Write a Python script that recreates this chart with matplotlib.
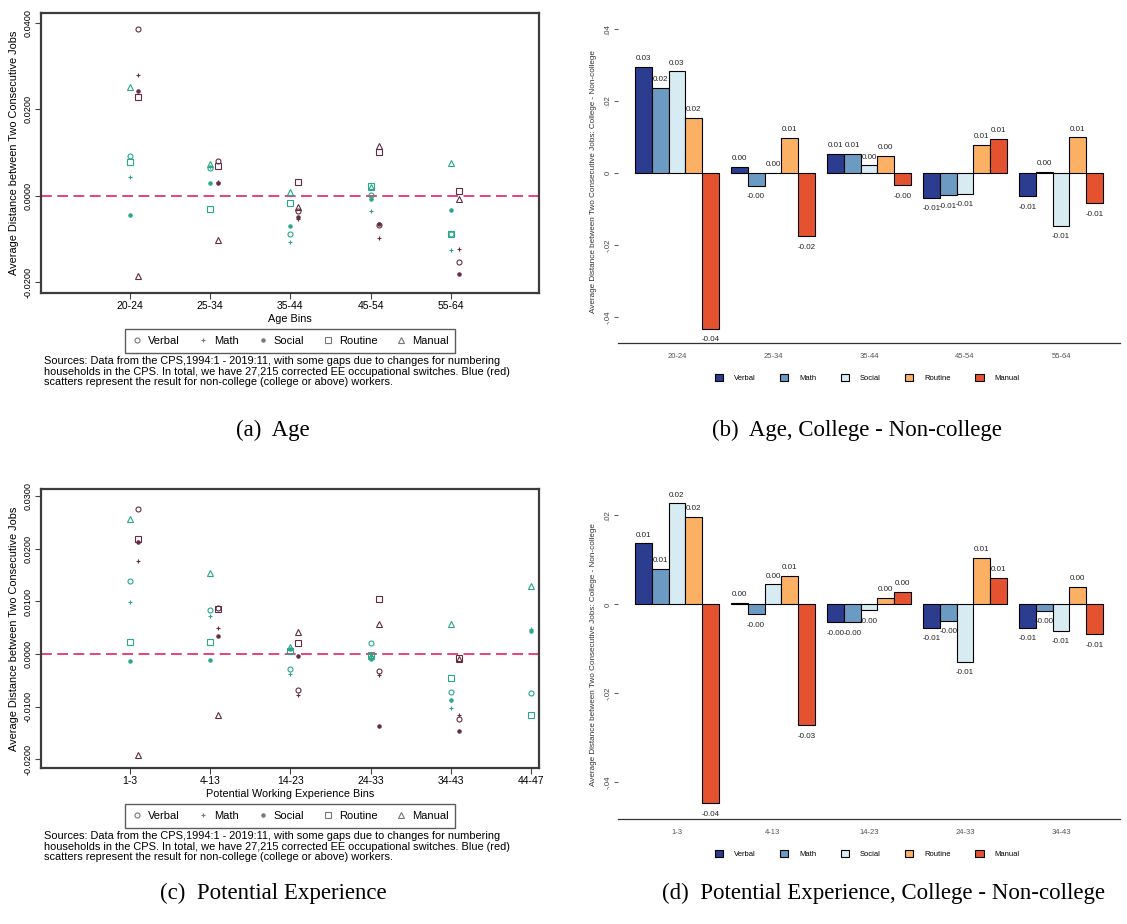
import numpy as np
import matplotlib
matplotlib.use("Agg")
import matplotlib.pyplot as plt
from matplotlib.lines import Line2D
from matplotlib.patches import Patch

plt.rcParams["font.family"] = ["Liberation Sans", "DejaVu Sans"]

W, H = 1127, 924

skills = ["Verbal", "Math", "Social", "Routine", "Manual"]
age_bins = ["20-24", "25-34", "35-44", "45-54", "55-64"]
exp_bins = ["1-3", "4-13", "14-23", "24-33", "34-43", "44-47"]

# average distance by age bin, rows follow `skills`
age_noncol = [
    [0.0091, 0.0064, -0.0088, 0.0002, -0.0088],
    [0.0043, 0.0066, -0.0107, -0.0036, -0.0126],
    [-0.0045, 0.0029, -0.0071, -0.0008, -0.0034],
    [0.0077, -0.0031, -0.0018, 0.0023, -0.0088],
    [0.0250, 0.0074, 0.0008, 0.0019, 0.0075],
]
age_col = [
    [0.0385, 0.0080, -0.0035, -0.0067, -0.0153],
    [0.0279, 0.0031, -0.0054, -0.0098, -0.0123],
    [0.0241, 0.0030, -0.0050, -0.0065, -0.0180],
    [0.0228, 0.0068, 0.0031, 0.0100, 0.0011],
    [-0.0186, -0.0103, -0.0026, 0.0114, -0.0008],
]

# average distance by potential experience bin (no college group for 44-47)
exp_noncol = [
    [0.0138, 0.0083, -0.0029, 0.0020, -0.0072, -0.0074],
    [0.0098, 0.0072, -0.0039, -0.0003, -0.0103, 0.0047],
    [-0.0013, -0.0011, 0.0010, -0.0009, -0.0087, 0.0044],
    [0.0022, 0.0022, 0.0005, -0.0001, -0.0046, -0.0117],
    [0.0256, 0.0154, 0.0013, -0.0003, 0.0058, 0.0130],
]
exp_col = [
    [0.0275, 0.0087, -0.0069, -0.0032, -0.0124],
    [0.0177, 0.0050, -0.0079, -0.0040, -0.0117],
    [0.0214, 0.0034, -0.0003, -0.0138, -0.0146],
    [0.0219, 0.0086, 0.0020, 0.0105, -0.0007],
    [-0.0192, -0.0117, 0.0041, 0.0057, -0.0009],
]

# college minus non-college
age_diff = [
    [0.0294, 0.0016, 0.0053, -0.0069, -0.0065],
    [0.0236, -0.0035, 0.0053, -0.0062, 0.0003],
    [0.0282, 0.0001, 0.0021, -0.0057, -0.0146],
    [0.0152, 0.0097, 0.0048, 0.0077, 0.0099],
    [-0.0432, -0.0176, -0.0034, 0.0095, -0.0083],
]
exp_diff = [
    [0.0137, 0.0004, -0.0040, -0.0052, -0.0052],
    [0.0079, -0.0022, -0.0040, -0.0037, -0.0014],
    [0.0227, 0.0045, -0.0013, -0.0129, -0.0059],
    [0.0196, 0.0064, 0.0015, 0.0105, 0.0039],
    [-0.0447, -0.0271, 0.0028, 0.0060, -0.0067],
]

TEAL = "#27a88a"
MAROON = "#642c40"
BAR_COLORS = ["#2c3d8f", "#6b9bc3", "#d7ebf2", "#fbb064", "#e5522f"]
MARKERS = [
    dict(marker="o", ms=3.6, hollow=True),
    dict(marker="+", ms=3.4, hollow=False),
    dict(marker="o", ms=2.4, hollow=False),
    dict(marker="s", ms=4.0, hollow=True),
    dict(marker="^", ms=4.2, hollow=True),
]

NOTE = ("Sources: Data from the CPS,1994:1 - 2019:11, with some gaps due to changes for numbering\n"
        "households in the CPS. In total, we have 27,215 corrected EE occupational switches. Blue (red)\n"
        "scatters represent the result for non-college (college or above) workers.")

fig = plt.figure(figsize=(W / 100, H / 100), dpi=100)


def px_axes(x0, y0, x1, y1):
    return fig.add_axes([x0 / W, 1 - y1 / H, (x1 - x0) / W, (y1 - y0) / H])


def marker_kw(i, color):
    m = MARKERS[i]
    kw = dict(ls="none", marker=m["marker"], ms=m["ms"], color=color, mew=0.8)
    if m["hollow"]:
        kw["mfc"] = "none"
    return kw


def scatter_panel(top, bottom, cats, noncol, col, ylim, yticks, xlabel):
    ax = px_axes(41, top, 539, bottom)
    x = np.arange(1, len(cats) + 1)
    ax.axhline(0, color="#e8336a", lw=1.3, ls=(0, (6, 3)), zorder=1)
    for i in range(len(skills)):
        ax.plot(x, noncol[i], **marker_kw(i, TEAL), zorder=3)
        ax.plot(x[:len(col[i])] + 0.1, col[i], **marker_kw(i, MAROON), zorder=3)
    ax.set_xlim(-0.11, 6.1)
    ax.set_ylim(*ylim)
    ax.set_xticks(x, cats, fontsize=7.5)
    ax.set_yticks(yticks, [f"{t:.4f}" for t in yticks], fontsize=6.6,
                  rotation=90, va="center")
    ax.tick_params(direction="out", length=4, width=0.8, color="#444", pad=2)
    for s in ax.spines.values():
        s.set_linewidth(1.6)
        s.set_color("#3c3c3c")
    fig.text(14 / W, 1 - (top + bottom) / 2 / H,
             "Average Distance between Two Consecutive Jobs",
             rotation=90, ha="center", va="center", fontsize=7.9)
    fig.text(290 / W, 1 - (bottom + 26) / H, xlabel, ha="center", va="center",
             fontsize=7.8)

    handles = [Line2D([], [], **marker_kw(i, "#777")) for i in range(len(skills))]
    leg = fig.legend(handles, skills, loc="center", ncol=5,
                     bbox_to_anchor=(290 / W, 1 - (bottom + 48) / H),
                     fontsize=8, frameon=True, fancybox=False,
                     edgecolor="#333", handlelength=1.0, handletextpad=0.5,
                     columnspacing=1.6, borderpad=0.6)
    leg.get_frame().set_linewidth(1.0)
    fig.text(44 / W, 1 - (bottom + 63) / H, NOTE, ha="left", va="top",
             fontsize=7.9, linespacing=1.08)
    return ax


def bar_panel(top, bottom, cats, diffs, ylim, yticks, yticklabels):
    ax = px_axes(618, top, 1120, bottom)
    pitch = 5.7
    centers = np.arange(len(cats)) * pitch
    for i, s in enumerate(skills):
        xs = centers + (i - 2)
        ax.bar(xs, diffs[i], width=1.0, color=BAR_COLORS[i],
               edgecolor="black", lw=0.8, label=s)
        for xx, v in zip(xs, diffs[i]):
            ax.annotate(f"{v:.2f}", (xx, v),
                        xytext=(0, 6 if v >= 0 else -8),
                        textcoords="offset points", ha="center", va="center",
                        fontsize=5.8, color="#222")
    ax.set_xlim(centers[0] - 3.5, centers[-1] + 3.5)
    ax.set_ylim(*ylim)
    ax.set_xticks(centers, cats, fontsize=5.5, color="#555")
    ax.tick_params(axis="x", length=0, pad=7)
    ax.set_yticks(yticks, yticklabels, fontsize=5.7, color="#444",
                  rotation=90, va="center")
    ax.tick_params(axis="y", direction="out", length=3, width=0.7,
                   color="#555", pad=1.5)
    for k in ("left", "right", "top"):
        ax.spines[k].set_visible(False)
    ax.spines["bottom"].set_color("#333")
    ax.spines["bottom"].set_linewidth(0.9)
    fig.text(594 / W, 1 - (top + bottom) / 2 / H,
             "Average Distance between Two Consecutive Jobs: College - Non-college",
             rotation=90, ha="center", va="center", fontsize=5.9, color="#333")
    handles = [Patch(facecolor=c, edgecolor="black", lw=0.8) for c in BAR_COLORS]
    fig.legend(handles, skills, loc="center", ncol=5,
               bbox_to_anchor=(867 / W, 1 - (bottom + 35) / H),
               fontsize=5.5, frameon=False, handlelength=1.1,
               handleheight=1.1, handletextpad=1.4, columnspacing=3.2)
    return ax


scatter_panel(13, 293, age_bins, age_noncol, age_col,
              (-0.0225, 0.0422), [-0.02, 0.0, 0.02, 0.04], "Age Bins")
scatter_panel(489, 768, exp_bins, exp_noncol, exp_col,
              (-0.0217, 0.0314), [-0.02, -0.01, 0.0, 0.01, 0.02, 0.03],
              "Potential Working Experience Bins")

bar_panel(20, 343, age_bins, age_diff, (-0.0472, 0.0425),
          [-0.04, -0.02, 0.0, 0.02, 0.04], ["-.04", "-.02", "0", ".02", ".04"])
bar_panel(490, 819, exp_bins[:5], exp_diff, (-0.0482, 0.0257),
          [-0.04, -0.02, 0.0, 0.02], ["-.04", "-.02", "0", ".02"])

cap = dict(ha="center", va="center", fontsize=16.5, family="Liberation Serif")
fig.text(273 / W, 1 - 430 / H, "(a)  Age", **cap)
fig.text(857 / W, 1 - 430 / H, "(b)  Age, College - Non-college", **cap)
fig.text(273 / W, 1 - 893 / H, "(c)  Potential Experience", **cap)
fig.text(884 / W, 1 - 893 / H, "(d)  Potential Experience, College - Non-college", **cap)

fig.savefig("out.png", dpi=100)
